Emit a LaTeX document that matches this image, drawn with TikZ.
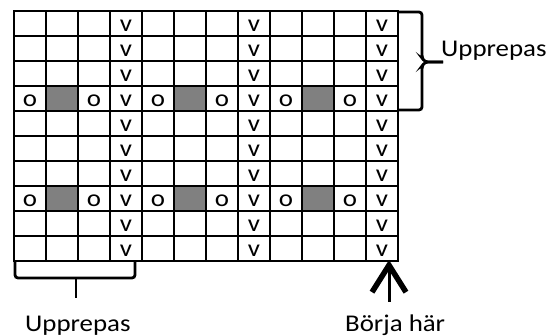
\documentclass[tikz,border=0pt]{standalone}
\usepackage{fontspec}
\setmainfont{Carlito}[FakeStretch=1.12]
\usetikzlibrary{arrows.meta}
\definecolor{cellgray}{RGB}{128,128,128}
\begin{document}
\begin{tikzpicture}[x=1pt,y=-1pt,
  gridline/.style={line width=2.8pt, line cap=rect},
  celltext/.style={font=\fontsize{24}{24}\selectfont, inner sep=0pt, anchor=base},
  lbl/.style={font=\fontsize{24}{24}\selectfont, inner sep=0pt, anchor=base west},
  bracestyle/.style={line width=2.8pt, rounded corners=3pt},
  arrowstyle/.style={line width=3pt, -{Straight Barb[length=27pt,width=34pt,line width=5.5pt]}},
]
\useasboundingbox (0,0) rectangle (559,336);
% gray cells
\foreach \r in {4,8} \foreach \c in {2,6,10}
  \fill[cellgray] ({14+32*(\c-1)},{11+25*(\r-1)}) rectangle ++(32,25);
% grid
\foreach \i in {0,...,12} \draw[gridline] ({14+32*\i},11) -- ({14+32*\i},261);
\foreach \j in {0,...,10} \draw[gridline] (14,{11+25*\j}) -- (398,{11+25*\j});
% v symbols
\foreach \r in {1,...,10} \foreach \c in {4,8,12}
  \node[celltext] (v\r-\c) at ({14+32*(\c-0.5)},{11+25*(\r-1)+21}) {v};
% o symbols
\foreach \r in {4,8} \foreach \c in {1,3,5,7,9,11}
  \node[celltext] (o\r-\c) at ({14+32*(\c-0.5)},{11+25*(\r-1)+21}) {o};
% right brace
\coordinate (rb1) at (399,12);
\coordinate (rb2) at (399,110);
\coordinate (rtip) at (443,62);
\draw[bracestyle] (rb1) -- (422,12) -- (422,58) -- (425,62) -- (rtip);
\draw[bracestyle] (rtip) -- (425,62) -- (422,66) -- (422,110) -- (rb2);
\node[lbl] (rlabel) at (441,57) {Upprepas};
% bottom brace
\coordinate (bb1) at (15,262);
\coordinate (bb2) at (135,262);
\coordinate (btip) at (76,298);
\draw[bracestyle] (bb1) -- (15,278) -- (135,278) -- (bb2);
\draw[bracestyle] (76,278) -- (btip);
\node[lbl] (blabel) at (25,331) {Upprepas};
% start arrow
\coordinate (corner) at (389,260);
\coordinate (astart) at (389,302);
\draw[arrowstyle] (astart) -- (corner);
\node[lbl] (slabel) at (345,331) {Börja här};
\end{tikzpicture}
\end{document}
